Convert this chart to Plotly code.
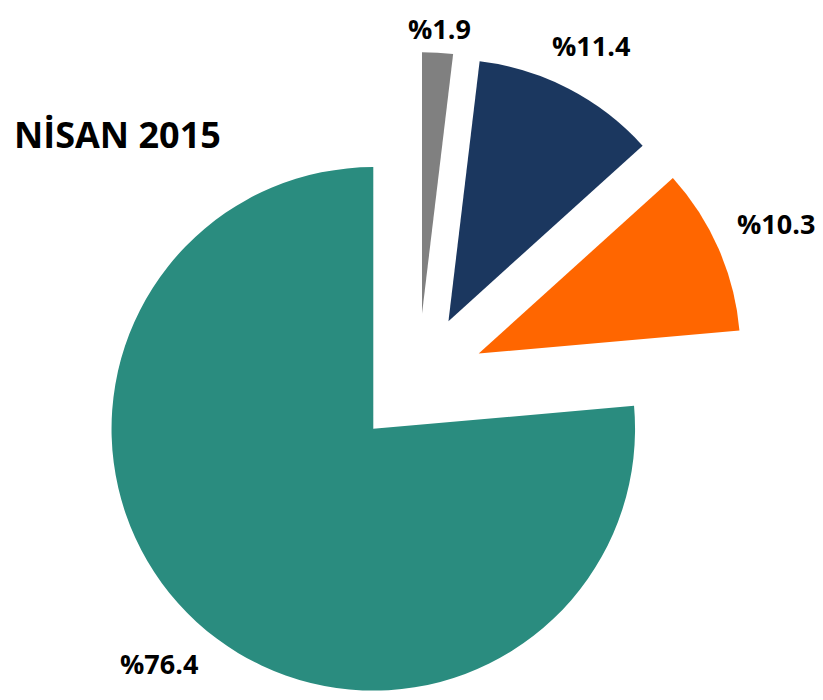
import math
import plotly.graph_objects as go

# Data (clockwise from 12 o'clock)
categories = ["Gri", "Lacivert", "Turuncu", "Yeşil"]
values = [1.9, 11.4, 10.3, 76.4]
labels = ["%1.9", "%11.4", "%10.3", "%76.4"]
colors = ["#808080", "#1B375F", "#FF6600", "#2A8C7F"]
title_text = "NİSAN 2015"

W, H = 823, 700
PULL = 0.253
DOM_X = [0.05, 0.9464]
DOM_Y = [0.0, 0.9371]
LABEL_SIZE = 27

fig = go.Figure(
    go.Pie(
        labels=categories,
        values=values,
        textinfo="none",
        marker=dict(colors=colors, line=dict(width=0)),
        sort=False,
        direction="clockwise",
        rotation=0,
        pull=[PULL] * len(values),
        domain=dict(x=DOM_X, y=DOM_Y),
        hoverinfo="skip",
        showlegend=False,
    )
)

# Place value labels outside each (pulled) slice, following plotly's pie geometry
cx = W * (DOM_X[0] + DOM_X[1]) / 2
cy = H * (2 - DOM_Y[0] - DOM_Y[1]) / 2
r = min(W * (DOM_X[1] - DOM_X[0]), H * (DOM_Y[1] - DOM_Y[0])) / 2 / (1 + PULL)
total = sum(values)
gap, hw, hh = 20, 42, 10
box_half = LABEL_SIZE * 0.7 + 2  # half height of annotation box, keep it inside the figure
cum = 0.0
for v, lab in zip(values, labels):
    mid = 2 * math.pi * (cum + v / 2) / total
    cum += v
    ux, uy = math.sin(mid), -math.cos(mid)
    d = r * (1 + PULL) + gap + hw * abs(ux) + hh * abs(uy)
    px, py = cx + d * ux, cy + d * uy
    py = min(max(py, box_half), H - box_half)
    fig.add_annotation(
        x=px / W, y=1 - py / H, xref="paper", yref="paper",
        text=lab, showarrow=False, xanchor="center", yanchor="middle",
        font=dict(family="Open Sans", size=LABEL_SIZE, color="#000000", weight="bold"),
    )

fig.update_layout(
    width=W,
    height=H,
    margin=dict(l=0, r=0, t=0, b=0),
    paper_bgcolor="white",
    plot_bgcolor="white",
    title=dict(
        text=title_text,
        xref="container", yref="container",
        x=6 / W, y=1 - 127 / H,
        xanchor="left", yanchor="middle",
        font=dict(family="Open Sans", size=36, color="#000000", weight="bold"),
    ),
)

fig.write_html("out.html")
